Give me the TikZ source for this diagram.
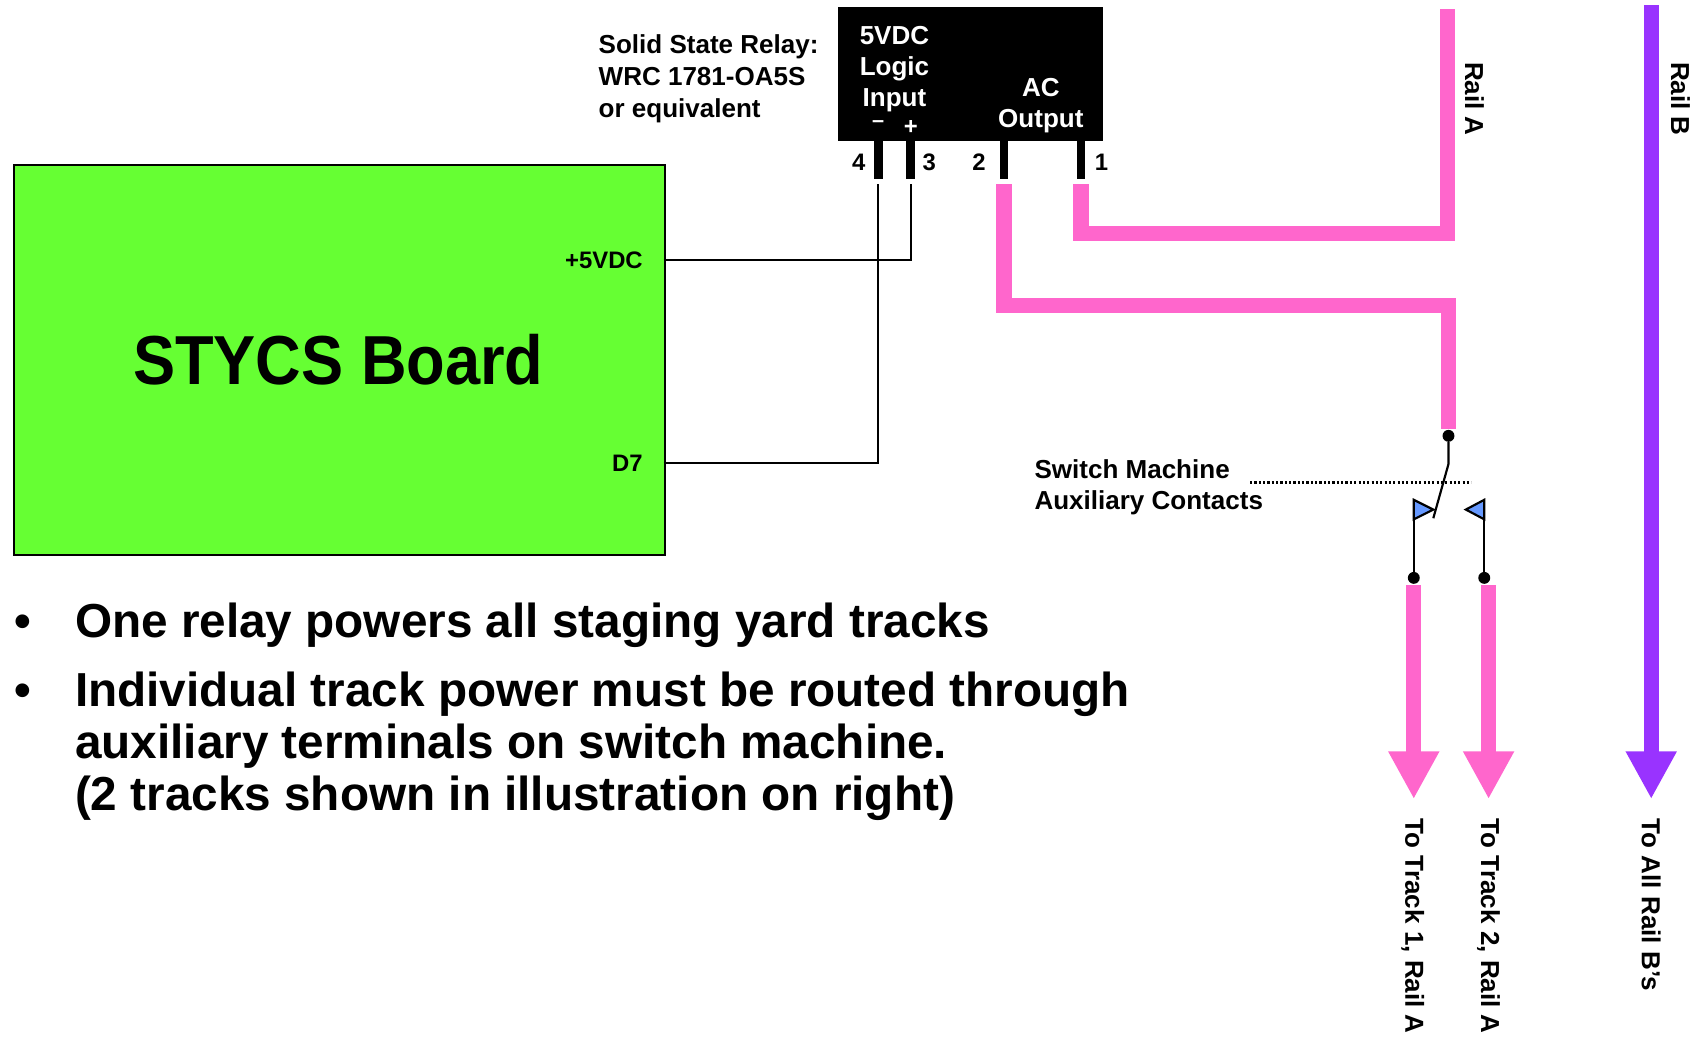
\documentclass[tikz,border=0pt]{standalone}
\usepackage{fontspec}
\setmainfont{Liberation Sans}
\usetikzlibrary{arrows.meta}
\definecolor{boardgreen}{HTML}{66FF33}
\definecolor{railpink}{HTML}{FF66CC}
\definecolor{railpurple}{HTML}{9933FF}
\definecolor{flagblue}{HTML}{6699FF}
\begin{document}
\begin{tikzpicture}[x=1pt,y=-1pt,
  txt/.style={font=\bfseries\fontsize{24}{30}\selectfont, inner sep=0pt},
  small/.style={font=\bfseries\fontsize{22}{26}\selectfont, inner sep=0pt},
  big/.style={font=\bfseries\fontsize{44}{48}\selectfont, inner sep=0pt},
  wtxt/.style={txt, text=white},
  wire/.style={line width=2pt, black},
  pinkwire/.style={line width=14pt, railpink},
  pinkarrow/.style={line width=14pt, railpink, -{Triangle[width=44pt,length=44pt]}},
  purplearrow/.style={line width=14pt, railpurple, -{Triangle[width=44pt,length=44pt]}},
  pin/.style={fill=black, draw=none},
  dotc/.style={circle, fill=black, inner sep=0pt, minimum size=11pt},
  flag/.style={fill=flagblue, draw=black, line width=2pt, line join=miter},
  vlabel/.style={txt, rotate=-90, anchor=west}]
\useasboundingbox (0,0) rectangle (1568,960);

% STYCS board
\node[draw=black, line width=2pt, fill=boardgreen, minimum width=600pt, minimum height=360pt, anchor=north west, inner sep=0pt] (board) at (12,151) {};
\node[font=\bfseries\fontsize{64}{70}\selectfont, inner sep=0pt, anchor=base, xscale=0.91, transform shape] (boardlbl) at (312,355) {STYCS Board};
\node[small, anchor=base east] (p5v) at (593,248) {+5VDC};
\node[small, anchor=base east] (pd7) at (593,435) {D7};
\coordinate (b5v) at (612,240);
\coordinate (bd7) at (612,427);

% Relay
\node[fill=black, minimum width=244pt, minimum height=124pt, anchor=north west, inner sep=0pt] (relay) at (773,6) {};
\node[wtxt, anchor=base] (r1) at (825,41) {5VDC};
\node[wtxt, anchor=base] (r2) at (825,70) {Logic};
\node[wtxt, anchor=base] (r3) at (825,98) {Input};
\node[font=\bfseries\fontsize{20}{24}\selectfont, inner sep=0pt, text=white, anchor=base] (rm) at (810,118) {–};
\node[font=\bfseries\fontsize{22}{26}\selectfont, inner sep=0pt, text=white, anchor=base] (rp) at (840,124) {+};
\node[wtxt, anchor=base] (ra) at (960,89) {AC};
\node[wtxt, anchor=base] (ro) at (960,118) {Output};

\node[txt, anchor=base west] (s1) at (552,49) {Solid State Relay:};
\node[txt, anchor=base west] (s2) at (552,79) {WRC 1781-OA5S};
\node[txt, anchor=base west] (s3) at (552,108) {or equivalent};

% pins
\fill[pin] (806,130) rectangle (814,165);
\fill[pin] (836,130) rectangle (844,165);
\fill[pin] (922,130) rectangle (930,165);
\fill[pin] (993,130) rectangle (1001,165);
\node[small, anchor=base] (n4) at (792,157) {4};
\node[small, anchor=base] (n3) at (857,157) {3};
\node[small, anchor=base] (n2) at (903,157) {2};
\node[small, anchor=base] (n1) at (1016,157) {1};
\coordinate (pin4) at (810,170);
\coordinate (pin3) at (840,170);
\coordinate (pin2) at (926,170);
\coordinate (pin1) at (997,170);

% logic wires
\draw[wire] (b5v) -| (pin3);
\draw[wire] (bd7) -| (pin4);

% rails
\coordinate (railAtop) at (1335,8);
\coordinate (swtop) at (1336,402);
\draw[pinkwire, line join=miter] (pin1) |- (1335,215) -- (railAtop);
\draw[pinkwire, line join=miter] (pin2) |- (1336,282) -- (1336,396);
\node[vlabel] (railA) at (1360,57) {Rail A};

\coordinate (railBtop) at (1523,5);
\coordinate (railBend) at (1523,737);
\draw[purplearrow] (railBtop) -- (railBend);
\node[vlabel] (railB) at (1550,57) {Rail B};

% switch machine
\node[dotc] (d0) at (swtop) {};
\coordinate (swbend) at (1336,428);
\coordinate (swend) at (1322,478);
\draw[wire] (d0) -- (swbend) -- (swend);
\node[dotc] (d1) at (1304,533) {};
\node[dotc] (d2) at (1369,533) {};
\coordinate (f1top) at (1304,461);
\coordinate (f2top) at (1369,461);
\draw[wire] (f1top) -- (d1);
\draw[wire] (f2top) -- (d2);
\filldraw[flag] (f1top) -- (1304,479) -- (1322,470) -- cycle;
\filldraw[flag] (f2top) -- (1369,479) -- (1352,470) -- cycle;
\coordinate (dotl) at (1153,445);
\coordinate (dotr) at (1357,445);
\draw[line width=2pt, dotted] (dotl) -- (dotr);
\node[txt, anchor=base west] (sm1) at (954,441) {Switch Machine};
\node[txt, anchor=base west] (sm2) at (954,470) {Auxiliary Contacts};

\coordinate (t1top) at (1304,540);
\coordinate (t1end) at (1304,737);
\coordinate (t2top) at (1373,540);
\coordinate (t2end) at (1373,737);
\draw[pinkarrow] (t1top) -- (t1end);
\draw[pinkarrow] (t2top) -- (t2end);
\node[vlabel] (tl1) at (1303,755) {To Track 1, Rail A};
\node[vlabel] (tl2) at (1373,755) {To Track 2, Rail A};
\node[vlabel] (tl3) at (1523,755) {To All Rail B’s};

% bullets
\node[big, anchor=base] (bu1) at (21,588) {•};
\node[big, anchor=base] (bu2) at (21,652) {•};
\node[big, anchor=base west] (l1) at (69,588) {One relay powers all staging yard tracks};
\node[big, anchor=base west] (l2) at (69,652) {Individual track power must be routed through};
\node[big, anchor=base west] (l3) at (69,700) {auxiliary terminals on switch machine.};
\node[big, anchor=base west] (l4) at (69,748) {(2 tracks shown in illustration on right)};
\end{tikzpicture}
\end{document}
